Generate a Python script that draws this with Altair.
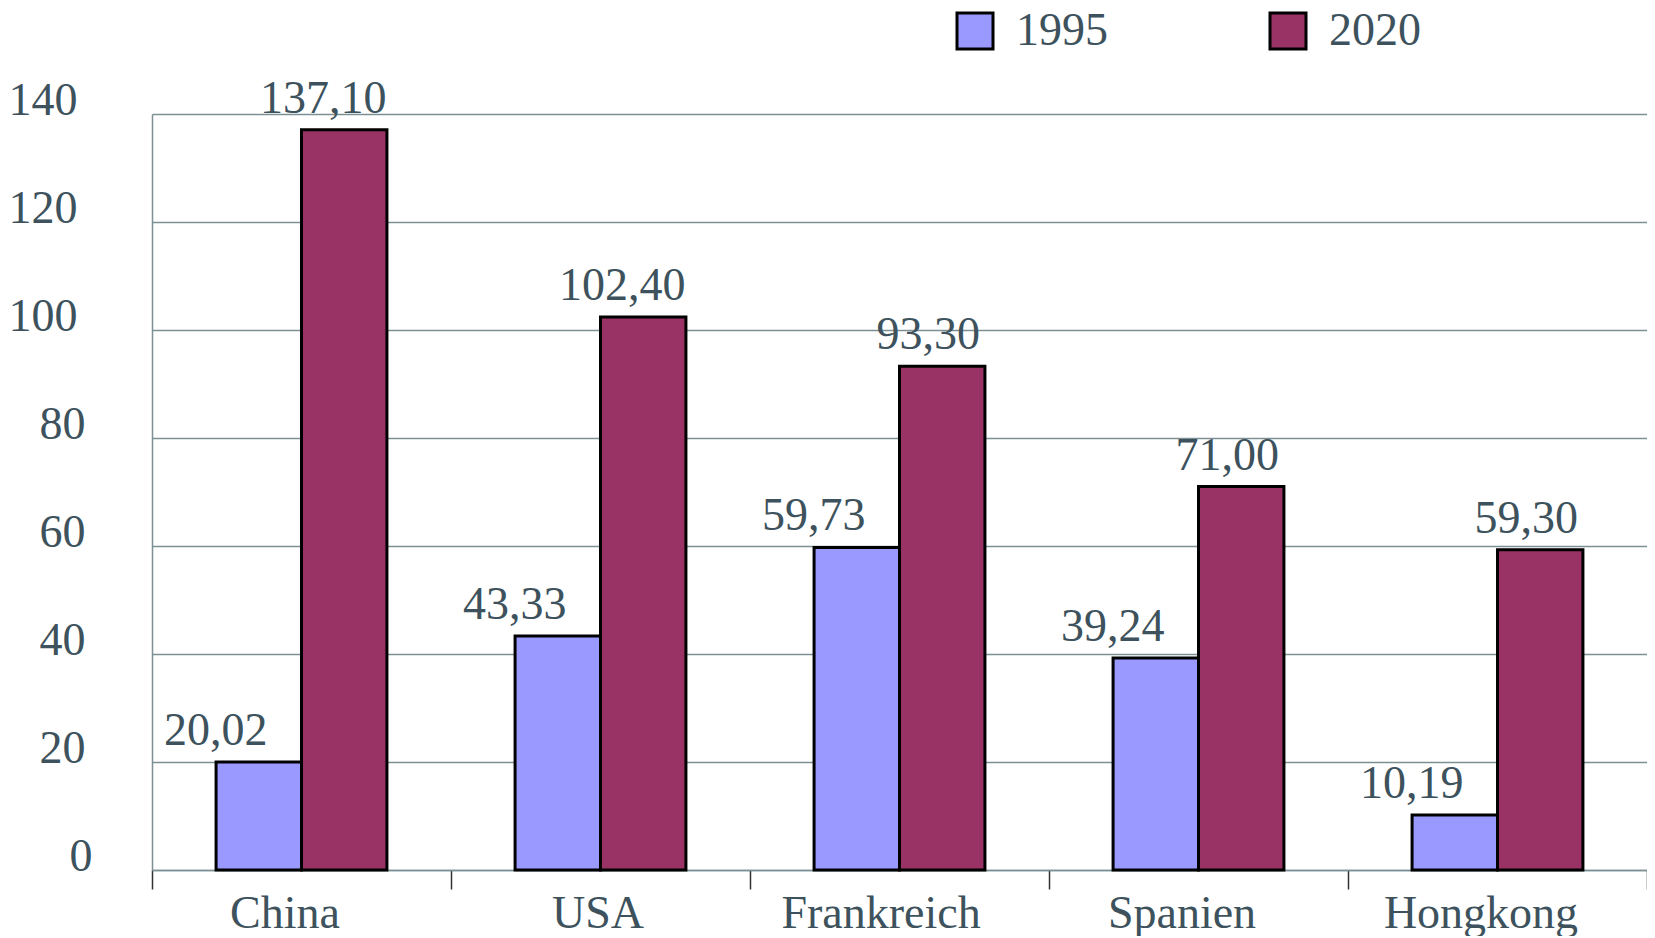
import altair as alt
import pandas as pd

countries = ["China", "USA", "Frankreich", "Spanien", "Hongkong"]
values_1995 = [20.02, 43.33, 59.73, 39.24, 10.19]
values_2020 = [137.10, 102.40, 93.30, 71.00, 59.30]
years = ["1995", "2020"]
colors = ["#9999ff", "#993366"]
y_ticks = [0, 20, 40, 60, 80, 100, 120, 140]

rows = []
for c, a, b in zip(countries, values_1995, values_2020):
    rows.append({"country": c, "year": "1995", "value": a})
    rows.append({"country": c, "year": "2020", "value": b})
df = pd.DataFrame(rows)

FONT = "Liberation Serif"
FS = 46
TXT = "#3d525c"
GRID = "#7d8e94"

x_enc = alt.X(
    "country:N",
    sort=countries,
    title=None,
    scale=alt.Scale(paddingInner=0, paddingOuter=0),
    axis=alt.Axis(
        labelAngle=0,
        labelFont=FONT,
        labelFontSize=FS,
        labelColor=TXT,
        labelBaseline="top",
        labelPadding=2,
        labelLimit=0,
        labelOffset={
            "condition": [
                {"test": "datum.value === 'USA'", "value": -3},
                {"test": "datum.value === 'Frankreich'", "value": -19},
            ],
            "value": -17,
        },
        tickBand="extent",
        tickColor="#333333",
        tickSize=19,
        tickWidth=1.5,
        domainColor=GRID,
        domainWidth=1.5,
        grid=False,
    ),
)
xo_enc = alt.XOffset(
    "year:N",
    sort=years,
    scale=alt.Scale(paddingInner=0, paddingOuter=0.75),
)
y_enc = alt.Y(
    "value:Q",
    title=None,
    scale=alt.Scale(domain=[0, 140], nice=False),
    axis=alt.Axis(
        values=y_ticks,
        labelFont=FONT,
        labelFontSize=FS,
        labelColor=TXT,
        labelBaseline="alphabetic",
        labelAlign="right",
        labelPadding={
            "condition": [
                {"test": "datum.value >= 100", "value": 75},
                {"test": "datum.value >= 10", "value": 67},
            ],
            "value": 60,
        },
        tickSize=0,
        ticks=False,
        domainColor=GRID,
        domainWidth=1.5,
        gridColor=GRID,
        gridWidth=1.5,
    ),
)

bars = alt.Chart(df).mark_bar(stroke="black", strokeWidth=3).encode(
    x=x_enc,
    xOffset=xo_enc,
    y=y_enc,
    color=alt.Color(
        "year:N",
        sort=years,
        scale=alt.Scale(domain=years, range=colors),
        legend=alt.Legend(
            title=None,
            orient="none",
            legendX=800,
            legendY=-106,
            direction="horizontal",
            symbolType="square",
            symbolSize=1296,
            symbolStrokeColor="black",
            symbolStrokeWidth=3,
            symbolOpacity=1,
            labelFont=FONT,
            labelFontSize=FS,
            labelColor=TXT,
            labelOffset=18,
            columnPadding=156,
            padding=0,
        ),
    ),
)

def labels(test, dx):
    return (
        alt.Chart(df)
        .transform_filter(test)
        .transform_calculate(lbl="replace(format(datum.value, '.2f'), '.', ',')")
        .mark_text(font=FONT, fontSize=FS, color=TXT, baseline="alphabetic", align="center", dx=dx, dy=-17)
        .encode(x=alt.X("country:N", sort=countries), xOffset=alt.XOffset("year:N", sort=years), y="value:Q", text="lbl:N")
    )

chart = (
    alt.layer(
        bars,
        labels("datum.year === '1995'", -43),
        labels("datum.year === '2020' && datum.value >= 100", -21),
        labels("datum.year === '2020' && datum.value < 100", -14),
    )
    .properties(
        width=1495,
        height=756,
        autosize=alt.AutoSizeParams(type="none"),
        padding={"left": 144, "top": 106, "right": 0, "bottom": 66},
    )
    .configure_view(stroke=None)
)

chart.save("out.html", embed_options={"renderer": "svg", "actions": False})
